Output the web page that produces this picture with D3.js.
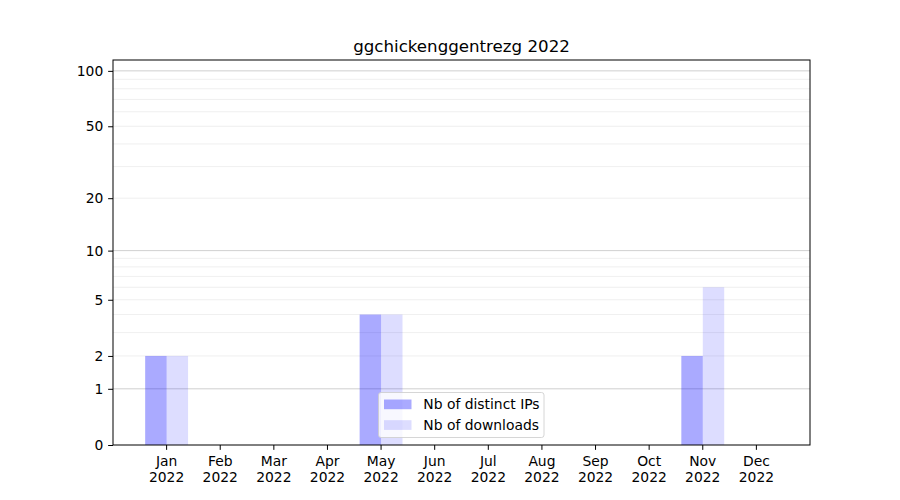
<!DOCTYPE html>
<html><head><meta charset="utf-8">
<script src="https://cdn.jsdelivr.net/npm/d3@7"></script>
<style>body{margin:0;background:#fff}svg{display:block}text{font-family:"DejaVu Sans",sans-serif}</style>
</head><body>
<svg id="c" width="900" height="500"></svg>
<script>
const title = "ggchickenggentrezg 2022";
const months = ["Jan","Feb","Mar","Apr","May","Jun","Jul","Aug","Sep","Oct","Nov","Dec"];
const yearLabel = "2022";
const distinctIPs = [2,0,0,0,4,0,0,0,0,0,2,0];
const downloads = [2,0,0,0,4,0,0,0,0,0,6,0];
const seriesNames = ["Nb of distinct IPs","Nb of downloads"];
const yTicks = [0,1,2,5,10,20,50,100];
const majorGrid = [1,10,100];
const minorGrid = [2,3,4,5,6,7,8,9,20,30,40,50,60,70,80,90];
const yMax = 114.5;

const FS = "13.89px";
const svg = d3.select("#c");
const L=113, R=810, T=60, B=445;
const x = d3.scaleBand().domain(months).range([L,R]).paddingInner(0).paddingOuter(0.5);
const y = d3.scaleSymlog().constant(1).domain([0,yMax]).range([B,T]);
const bw = x.step()*0.4;

const g = svg.append("g");
// grid
g.selectAll(".mg").data(minorGrid).join("line")
  .attr("x1",L).attr("x2",R).attr("y1",d=>y(d)).attr("y2",d=>y(d))
  .attr("stroke","#ebebeb").attr("stroke-width",0.8);
g.selectAll(".Mg").data(majorGrid).join("line")
  .attr("x1",L).attr("x2",R).attr("y1",d=>y(d)).attr("y2",d=>y(d))
  .attr("stroke","#c4c4c4").attr("stroke-width",0.8);

// bars
g.selectAll(".b1").data(distinctIPs).join("rect")
  .attr("x",(d,i)=>x(months[i])+x.bandwidth()/2-bw)
  .attr("width",bw).attr("y",d=>y(d)).attr("height",d=>B-y(d))
  .attr("fill","blue").attr("fill-opacity",0.333);
g.selectAll(".b2").data(downloads).join("rect")
  .attr("x",(d,i)=>x(months[i])+x.bandwidth()/2)
  .attr("width",bw).attr("y",d=>y(d)).attr("height",d=>B-y(d))
  .attr("fill","blue").attr("fill-opacity",0.133);

// axes
const yAxis = d3.axisLeft(y).tickValues(yTicks).tickFormat(d3.format("d")).tickSize(4.86).tickPadding(4.86);
const ya = svg.append("g").attr("transform",`translate(${L},0)`).call(yAxis);
ya.select(".domain").remove();
ya.selectAll("text").attr("font-size",FS).attr("fill","#000");
ya.selectAll("line").attr("stroke","#000").attr("stroke-width",1);

const xAxis = d3.axisBottom(x).tickSize(4.86).tickPadding(4.86).tickFormat("");
const xa = svg.append("g").attr("transform",`translate(0,${B})`).call(xAxis);
xa.select(".domain").remove();
xa.selectAll("line").attr("stroke","#000").attr("stroke-width",1);
xa.selectAll(".tick").each(function(d){
  const t = d3.select(this).select("text").attr("font-size",FS).attr("fill","#000").attr("y",null).attr("dy",null);
  t.append("tspan").attr("x",0).attr("y",21).text(d);
  t.append("tspan").attr("x",0).attr("y",37.2).text(yearLabel);
});

// frame
svg.append("rect").attr("x",L).attr("y",T).attr("width",R-L).attr("height",B-T)
  .attr("fill","none").attr("stroke","#000").attr("stroke-width",1);

// title
svg.append("text").attr("x",(L+R)/2).attr("y",52).attr("text-anchor","middle")
  .attr("font-size","16.67px").attr("fill","#000").text(title);

// legend
const lg = svg.append("g").attr("transform","translate(378.5,392.5)");
lg.append("rect").attr("width",165.5).attr("height",45).attr("rx",2.5)
  .attr("fill","#fff").attr("fill-opacity",0.8).attr("stroke","#cccccc").attr("stroke-width",0.8);
const op=[0.333,0.133];
seriesNames.forEach((n,i)=>{
  lg.append("rect").attr("x",5.5).attr("y",7+i*20.7).attr("width",27.5).attr("height",9.7)
    .attr("fill","blue").attr("fill-opacity",op[i]);
  lg.append("text").attr("x",44.8).attr("y",16.7+i*20.7).attr("font-size",FS).attr("fill","#000").text(n);
});
</script>
</body></html>
